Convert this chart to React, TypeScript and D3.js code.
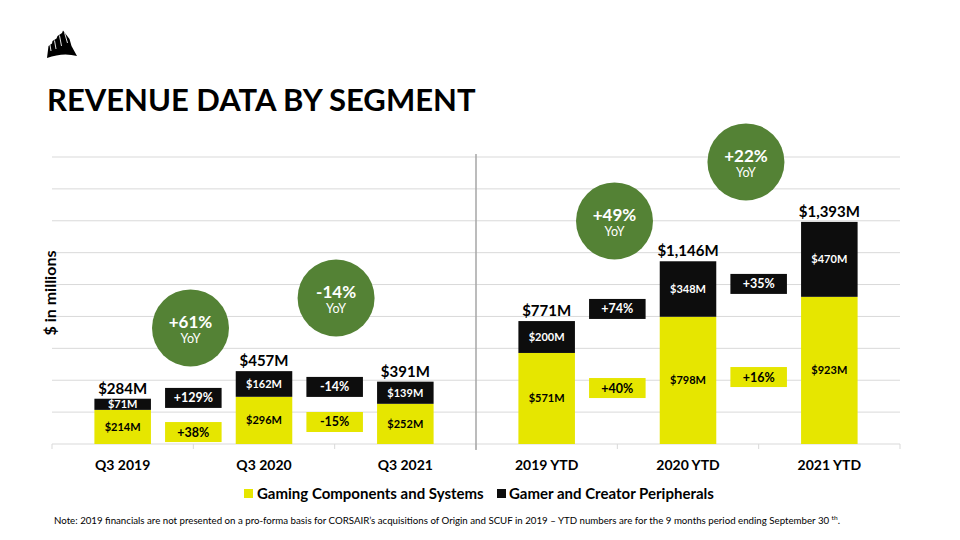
import React from "react";
import * as d3 from "d3";

const categories = ["Q3 2019", "Q3 2020", "Q3 2021", "2019 YTD", "2020 YTD", "2021 YTD"];
const gamingComponents = [214, 296, 252, 571, 798, 923];
const peripherals = [71, 162, 139, 200, 348, 470];
const totals = [284, 457, 391, 771, 1146, 1393];

// change annotations between neighbouring bars (boundary index along the band scale)
const changeBoundary = [1, 2, 4, 5];
const peripheralChange = ["+129%", "-14%", "+74%", "+35%"];
const peripheralChangeLevel = [289, 358, 847, 1004];
const componentChange = ["+38%", "-15%", "+40%", "+16%"];
const componentChangeLevel = [75, 138, 351, 420];

// YoY bubbles
const yoyLabels = ["+61%", "-14%", "+49%", "+22%"];
const yoyPos = [0.98, 2.01, 3.98, 4.91];
const yoyLevel = [728, 916, 1399, 1769];

const yTicks = [0, 200, 400, 600, 800, 1000, 1200, 1400, 1600, 1800];

const YELLOW = "#e6e600";
const BLACK = "#0d0d0d";
const GREEN = "#548235";
const FONT = "Lato, 'Open Sans', sans-serif";

export default function App() {
  const W = 960;
  const H = 540;
  const x = d3.scaleBand<string>().domain(categories).range([52, 900]).paddingInner(0.6).paddingOuter(0.3);
  const y = d3.scaleLinear().domain([0, 1800]).range([444, 157]);
  const step = x.step();
  const x0 = 52;
  const bw = x.bandwidth();
  const fmt = d3.format(",");
  const money = (v: number) => `$${fmt(v)}M`;
  const bx = (k: number) => x0 + step * k;
  const boxH = 20;

  return (
    <svg width={W} height={H} style={{ position: "absolute", left: 0, top: 0, background: "#fff" }} fontFamily={FONT}>
      <rect width={W} height={H} fill="#fff" />
      {/* logo */}
      <g>
        <path d="M47,58 L48.5,46 L52,43.5 L52.5,41 L56.5,38.5 L57.5,36 L62,33 L63,30.5 L69.5,39 L71.5,46 L77,56 Q63,52 47,58 Z" fill="#000" />
        <path d="M50,45 L51,51 M54.5,40.5 L56,49 M59.5,35.5 L61.5,46 M64.5,32.5 L67.5,43" stroke="#fff" strokeWidth={0.9} />
      </g>
      <text x={47} y={111} fontSize={31} fontWeight={700} fill="#000">REVENUE DATA BY SEGMENT</text>

      {/* gridlines */}
      {yTicks.slice(1).map((t) => (
        <line key={t} x1={52} x2={900} y1={y(t)} y2={y(t)} stroke="#d9d9d9" strokeWidth={1} />
      ))}
      <line x1={52} x2={900} y1={y(0)} y2={y(0)} stroke="#d9d9d9" strokeWidth={1} />
      {d3.range(7).map((i) => (
        <line key={i} x1={bx(i)} x2={bx(i)} y1={y(0)} y2={y(0) + 5} stroke="#d9d9d9" strokeWidth={1} />
      ))}
      {/* divider */}
      <line x1={bx(3)} x2={bx(3)} y1={154} y2={450} stroke="#a6a6a6" strokeWidth={1.5} />

      {/* bars */}
      {categories.map((c, i) => {
        const xi = x(c)!;
        const g = gamingComponents[i];
        const p = peripherals[i];
        const yTop = y(totals[i]);
        const ySplit = y(g);
        return (
          <g key={c}>
            <rect x={xi} y={ySplit} width={bw} height={y(0) - ySplit} fill={YELLOW} />
            <rect x={xi} y={yTop} width={bw} height={ySplit - yTop} fill={BLACK} />
            <text x={xi + bw / 2} y={(ySplit + y(0)) / 2 + 4} textAnchor="middle" fontSize={11} fontWeight={700} fill="#000">{money(g)}</text>
            <text x={xi + bw / 2} y={(yTop + ySplit) / 2 + 4} textAnchor="middle" fontSize={11} fontWeight={700} fill="#fff">{money(p)}</text>
            <text x={xi + bw / 2} y={yTop - 5} textAnchor="middle" fontSize={15} fontWeight={700} fill="#000">{money(totals[i])}</text>
            <text x={xi + bw / 2} y={470} textAnchor="middle" fontSize={14} fontWeight={700} fill="#000">{c}</text>
          </g>
        );
      })}

      {/* change boxes */}
      {changeBoundary.map((k, j) => (
        <g key={k}>
          <rect x={bx(k) - bw / 2} y={y(peripheralChangeLevel[j]) - boxH / 2} width={bw} height={boxH} fill={BLACK} />
          <text x={bx(k)} y={y(peripheralChangeLevel[j]) + 4.5} textAnchor="middle" fontSize={12.5} fontWeight={700} fill="#fff">{peripheralChange[j]}</text>
          <rect x={bx(k) - bw / 2} y={y(componentChangeLevel[j]) - boxH / 2} width={bw} height={boxH} fill={YELLOW} />
          <text x={bx(k)} y={y(componentChangeLevel[j]) + 4.5} textAnchor="middle" fontSize={12.5} fontWeight={700} fill="#000">{componentChange[j]}</text>
        </g>
      ))}

      {/* YoY bubbles */}
      {yoyLabels.map((l, j) => {
        const cx = bx(yoyPos[j]);
        const cy = y(yoyLevel[j]);
        return (
          <g key={l + j}>
            <circle cx={cx} cy={cy} r={38.5} fill={GREEN} />
            <text x={cx} y={cy} textAnchor="middle" fontSize={17} fontWeight={700} fill="#fff">{l}</text>
            <text x={cx} y={cy + 15} textAnchor="middle" fontSize={12.5} fill="#fff">YoY</text>
          </g>
        );
      })}

      {/* y label */}
      <text transform="translate(56,293) rotate(-90)" textAnchor="middle" fontSize={16} fontWeight={700} fill="#000">$ in millions</text>

      {/* legend */}
      <rect x={244} y={489} width={9} height={9} fill={YELLOW} />
      <text x={257} y={498.5} fontSize={15} fontWeight={700} fill="#000">Gaming Components and Systems</text>
      <rect x={497} y={489} width={9} height={9} fill={BLACK} />
      <text x={509} y={498.5} fontSize={15} fontWeight={700} fill="#000">Gamer and Creator Peripherals</text>

      {/* note */}
      <text x={54} y={524} fontSize={9.5} fill="#000" textLength={786} lengthAdjust="spacingAndGlyphs">
        Note: 2019 financials are not presented on a pro-forma basis for CORSAIR’s acquisitions of Origin and SCUF in 2019 – YTD numbers are for the 9 months period ending September 30 <tspan fontSize={6.5} dy={-4}>th</tspan><tspan dy={4}>.</tspan>
      </text>
    </svg>
  );
}
